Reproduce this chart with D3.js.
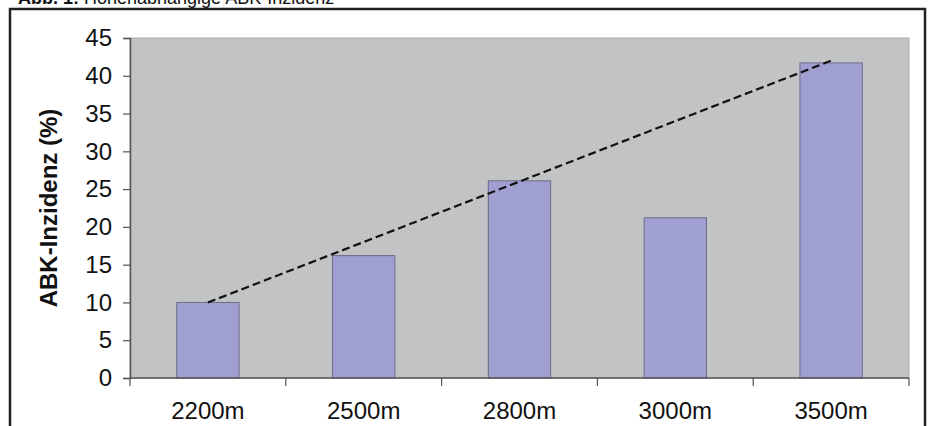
<!DOCTYPE html>
<html>
<head>
<meta charset="utf-8">
<script src="https://cdn.jsdelivr.net/npm/d3@7/dist/d3.min.js"></script>
<style>
  html, body { margin: 0; padding: 0; background: #ffffff; }
  svg { display: block; font-family: "Liberation Sans", Arial, Helvetica, sans-serif; }
</style>
</head>
<body>
<svg id="chart" width="931" height="426"></svg>
<script>
// Altitude categories and incidence (%) per category
const categories = ["2200m", "2500m", "2800m", "3000m", "3500m"];
const incidence = [10, 16.2, 26.1, 21.2, 41.7];
// Dashed trend line, drawn between the first and last category
const trendCategories = ["2200m", "3500m"];
const trendValues = [10, 42];
// Value axis ticks
const yTicks = [0, 5, 10, 15, 20, 25, 30, 35, 40, 45];
const titleBold = "Abb. 1:";
const titleText = " Höhenabhängige ABK-Inzidenz";
const yLabel = "ABK-Inzidenz (%)";

const svg = d3.select("#chart");
const plot = { left: 130, right: 909, top: 38, bottom: 378 };

// Title line, running off the top edge of the page
const title = svg.append("text")
  .attr("x", 18).attr("y", 4)
  .attr("font-size", 18).attr("fill", "#111");
title.append("tspan").attr("font-weight", "bold").text(titleBold);
title.append("tspan").text(titleText);

// Outer frame
svg.append("rect")
  .attr("x", 10).attr("y", 9)
  .attr("width", 915).attr("height", 440)
  .attr("fill", "none").attr("stroke", "#222").attr("stroke-width", 2.5);

const x = d3.scaleBand()
  .domain(categories)
  .range([plot.left, plot.right])
  .paddingInner(0.6).paddingOuter(0.3);

const xBand = d3.scaleBand()
  .domain(categories)
  .range([plot.left, plot.right])
  .padding(0);

const y = d3.scaleLinear().domain([0, 45]).range([plot.bottom, plot.top]);

// Plot background
svg.append("rect")
  .attr("x", plot.left).attr("y", plot.top)
  .attr("width", plot.right - plot.left).attr("height", plot.bottom - plot.top)
  .attr("fill", "#c1c3c5").attr("stroke", "#a9abad").attr("stroke-width", 1);

// Bars
svg.append("g").selectAll("rect")
  .data(categories.map((c, i) => ({ c, v: incidence[i] })))
  .join("rect")
  .attr("x", d => x(d.c))
  .attr("y", d => y(d.v))
  .attr("width", x.bandwidth())
  .attr("height", d => y(0) - y(d.v))
  .attr("fill", "#9f9fd1")
  .attr("stroke", "#6c6c88")
  .attr("stroke-width", 1);

// Dashed trend line
const trend = trendCategories.map((c, i) => [x(c) + x.bandwidth() / 2, y(trendValues[i])]);
svg.append("path")
  .attr("d", d3.line()(trend))
  .attr("fill", "none")
  .attr("stroke", "#111")
  .attr("stroke-width", 2.2)
  .attr("stroke-dasharray", "8,4");

// Y axis
const yAxis = svg.append("g")
  .attr("transform", `translate(${plot.left},0)`)
  .call(d3.axisLeft(y).tickValues(yTicks).tickSize(7).tickPadding(11).tickFormat(d3.format("d")));
yAxis.select(".domain").attr("stroke", "#555").attr("stroke-width", 1.5);
yAxis.selectAll(".tick line").attr("stroke", "#555").attr("stroke-width", 1.2);
yAxis.selectAll(".tick text")
  .attr("font-size", 24).attr("fill", "#111")
  .attr("font-family", "'Liberation Sans', Arial, sans-serif");

// X axis with ticks at category boundaries
const xAxisG = svg.append("g").attr("transform", `translate(0,${plot.bottom})`);
xAxisG.append("line")
  .attr("x1", plot.left).attr("x2", plot.right)
  .attr("stroke", "#555").attr("stroke-width", 1.5);
const boundaries = categories.map(c => xBand(c)).concat([plot.right]);
xAxisG.selectAll("line.tick")
  .data(boundaries)
  .join("line")
  .attr("class", "tick")
  .attr("x1", d => d).attr("x2", d => d)
  .attr("y1", 0).attr("y2", 8)
  .attr("stroke", "#555").attr("stroke-width", 1.2);
xAxisG.selectAll("text")
  .data(categories)
  .join("text")
  .attr("x", d => xBand(d) + xBand.bandwidth() / 2)
  .attr("y", 41)
  .attr("text-anchor", "middle")
  .attr("font-size", 24)
  .attr("fill", "#111")
  .text(d => d);

// Y axis title
svg.append("text")
  .attr("transform", `translate(57,${(plot.top + plot.bottom) / 2}) rotate(-90)`)
  .attr("text-anchor", "middle")
  .attr("font-size", 24)
  .attr("font-weight", "bold")
  .attr("fill", "#111")
  .text(yLabel);
</script>
</body>
</html>
